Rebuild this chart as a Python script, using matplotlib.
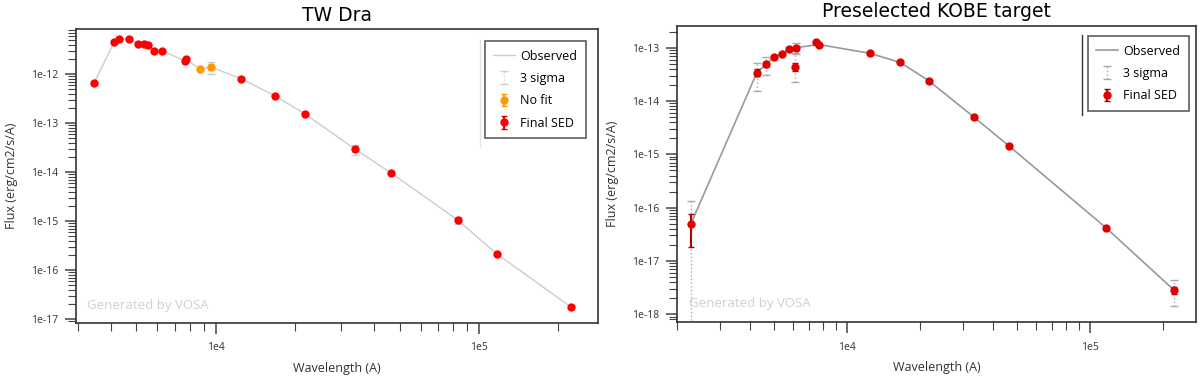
import matplotlib.pyplot as plt
import numpy as np
from matplotlib.lines import Line2D
from matplotlib.ticker import LogLocator, NullFormatter, FuncFormatter, FixedLocator

# --- TW Dra (left panel) ---
tw_wave = [3455, 4130, 4295, 4700, 5060, 5340, 5525, 5845, 6270, 7670, 7750,
           12480, 16750, 21800, 33800, 46200, 83000, 116600, 223000]
tw_flux = [6.6e-13, 4.6e-12, 5.2e-12, 5.2e-12, 4.2e-12, 4.2e-12, 3.95e-12, 2.9e-12, 3.0e-12,
           1.85e-12, 2.0e-12, 8.1e-13, 3.64e-13, 1.55e-13, 2.96e-14, 9.7e-15,
           1.05e-15, 2.16e-16, 1.77e-17]
tw_err_lo = [0.3e-13, 0, 0, 0, 0, 0, 0, 0, 0, 0, 0, 0, 0, 0, 0.3e-14, 0, 0.08e-15, 0, 0]
tw_err_hi = [0.3e-13, 0, 0, 0, 0, 0, 0, 0, 0, 0, 0, 0, 0, 0, 0.3e-14, 0, 0.08e-15, 0, 0]
tw_nofit_wave = [8690, 9610]
tw_nofit_flux = [1.27e-12, 1.39e-12]
tw_nofit_err = [0.05e-12, 0.15e-12]
tw_sig_wave = [9610, 33800, 83000]
tw_sig_lo = [1.0e-12, 2.2e-14, 0.88e-15]
tw_sig_hi = [1.75e-12, 3.6e-14, 1.2e-15]
tw_yticks = [1e-17, 1e-16, 1e-15, 1e-14, 1e-13, 1e-12]

# --- Preselected KOBE target (right panel) ---
kb_wave = [2276, 4265, 4660, 5030, 5400, 5800, 6150, 6130, 7440, 7650,
           12400, 16600, 21700, 33500, 46400, 116600, 223000]
kb_flux = [4.85e-17, 3.43e-14, 4.9e-14, 6.8e-14, 7.6e-14, 9.6e-14, 1.0e-13, 4.4e-14,
           1.3e-13, 1.12e-13, 7.9e-14, 5.3e-14, 2.42e-14, 4.92e-15, 1.45e-15,
           4.2e-17, 2.8e-18]
kb_err_lo = [3.0e-17, 0.45e-14, 0.5e-14, 0, 0, 0, 0.1e-13, 0.7e-14, 0, 0, 0, 0, 0, 0, 0, 0, 0.4e-18]
kb_err_hi = [2.9e-17, 0.55e-14, 0.5e-14, 0, 0, 0, 0.1e-13, 0.8e-14, 0, 0, 0, 0, 0, 0, 0, 0, 0.4e-18]
kb_sig_wave = [2276, 4265, 4660, 6150, 6130, 223000]
kb_sig_lo = [1e-19, 1.54e-14, 3.05e-14, 0.75e-13, 2.27e-14, 1.43e-18]
kb_sig_hi = [1.34e-16, 5.1e-14, 6.7e-14, 1.25e-13, 0.8e-13, 4.4e-18]
kb_line_wave = [2276, 4265, 4660, 5030, 5400, 5800, 6150, 7650,
                12400, 16600, 21700, 33500, 46400, 116600, 223000]
kb_line_flux = [4.85e-17, 3.43e-14, 4.9e-14, 6.8e-14, 7.6e-14, 9.6e-14, 1.0e-13, 1.15e-13,
                7.9e-14, 5.3e-14, 2.42e-14, 4.92e-15, 1.45e-15, 4.2e-17, 2.8e-18]
kb_yticks = [1e-18, 1e-17, 1e-16, 1e-15, 1e-14, 1e-13]

x_ticks = [1e4, 1e5]

plt.rcParams['font.family'] = ['Open Sans', 'DejaVu Sans']

fig = plt.figure(figsize=(12, 3.77), dpi=100)
ax1 = fig.add_axes([0.0633, 0.1432, 0.435, 0.779])
ax2 = fig.add_axes([0.5642, 0.1451, 0.4325, 0.7867])


def style_axes(ax, xlim, ylim, yticks, title):
    ax.set_xscale('log')
    ax.set_yscale('log')
    ax.set_xlim(*xlim)
    ax.set_ylim(*ylim)
    ax.xaxis.set_major_locator(FixedLocator(x_ticks))
    ax.xaxis.set_minor_locator(LogLocator(base=10, subs=np.arange(2, 10), numticks=20))
    ax.yaxis.set_major_locator(FixedLocator(yticks))
    ax.yaxis.set_minor_locator(LogLocator(base=10, subs=np.arange(2, 10), numticks=30))
    fmt = FuncFormatter(lambda v, p: '1e%d' % int(round(np.log10(v))))
    ax.xaxis.set_major_formatter(fmt)
    ax.yaxis.set_major_formatter(fmt)
    ax.xaxis.set_minor_formatter(NullFormatter())
    ax.yaxis.set_minor_formatter(NullFormatter())
    ax.tick_params(which='both', direction='out', labelsize=7.5, color='#444444',
                   labelcolor='#333333')
    ax.tick_params(which='major', length=8, width=1.1)
    ax.tick_params(which='minor', length=5.5, width=0.8)
    ax.tick_params(axis='x', which='major', pad=6)
    ax.tick_params(axis='y', which='major', pad=5)
    for s in ax.spines.values():
        s.set_color('#333333')
        s.set_linewidth(1.2)
    ax.set_title(title, fontsize=13.5, family='DejaVu Sans', pad=6)
    ax.set_xlabel('Wavelength (A)', fontsize=9, color='#333333', labelpad=6)
    ax.set_ylabel('Flux (erg/cm2/s/A)', fontsize=9, color='#333333', labelpad=9)


def add_legend(ax, anchor):
    leg = ax.legend(loc='upper right', bbox_to_anchor=anchor, fontsize=9, frameon=True,
                    fancybox=False, edgecolor='#333333', handlelength=1.7, handletextpad=0.45,
                    borderpad=0.7, labelspacing=0.75, borderaxespad=0)
    leg.get_frame().set_linewidth(1.2)
    return leg


# left panel
order = np.argsort(tw_wave + tw_nofit_wave)
all_w = np.array(tw_wave + tw_nofit_wave)[order]
all_f = np.array(tw_flux + tw_nofit_flux)[order]
ax1.plot(all_w, all_f, color='#cccccc', lw=1, label='Observed', zorder=1)
lo = np.array(tw_sig_lo)
hi = np.array(tw_sig_hi)
mid = np.sqrt(lo * hi)
sig = ax1.errorbar(tw_sig_wave, mid, yerr=[mid - lo, hi - mid], fmt='none', ecolor='#cccccc',
                   elinewidth=1, capsize=3, label='3 sigma', zorder=2)
sig[-1][0].set_linestyle(':')
ax1.errorbar(tw_nofit_wave, tw_nofit_flux, yerr=tw_nofit_err, fmt='o', color='#ff9900',
             ms=5, ecolor='#ff9900', capsize=2, label='No fit', zorder=3)
ax1.errorbar(tw_wave, tw_flux, yerr=[tw_err_lo, tw_err_hi], fmt='o', color='#ff0000',
             ms=5, ecolor='#cc0000', capsize=2, label='Final SED', zorder=4)
style_axes(ax1, (2951, 2.83e5), (8.3e-18, 8.2e-12), tw_yticks, 'TW Dra')
ax1.text(0.021, 0.058, 'Generated by VOSA', transform=ax1.transAxes, va='center',
         fontsize=9.5, color='#d0d0d0')
add_legend(ax1, (0.977, 0.961))
ax1.add_line(Line2D([0.774, 0.774], [0.599, 0.964], transform=ax1.transAxes,
                    color='#e4e4e4', lw=1))

# right panel
ax2.plot(kb_line_wave, kb_line_flux, color='#999999', lw=1.2, label='Observed', zorder=1)
klo = np.array(kb_sig_lo)
khi = np.array(kb_sig_hi)
kmid = np.sqrt(klo * khi)
sig2 = ax2.errorbar(kb_sig_wave, kmid, yerr=[kmid - klo, khi - kmid], fmt='none',
                    ecolor='#aaaaaa', elinewidth=1, capsize=3, label='3 sigma', zorder=2)
sig2[-1][0].set_linestyle(':')
ax2.errorbar(kb_wave, kb_flux, yerr=[kb_err_lo, kb_err_hi], fmt='o', color='#e00000',
             ms=5, ecolor='#b00000', capsize=2, label='Final SED', zorder=4)
style_axes(ax2, (2000, 2.74e5), (7.05e-19, 2.59e-13), kb_yticks, 'Preselected KOBE target')
ax2.text(0.023, 0.062, 'Generated by VOSA', transform=ax2.transAxes, va='center',
         fontsize=9.5, color='#d0d0d0')
add_legend(ax2, (0.9865, 0.966))
ax2.add_line(Line2D([0.780, 0.780], [0.699, 0.969], transform=ax2.transAxes,
                    color='#333333', lw=1))

fig.savefig('out.png', dpi=100)
